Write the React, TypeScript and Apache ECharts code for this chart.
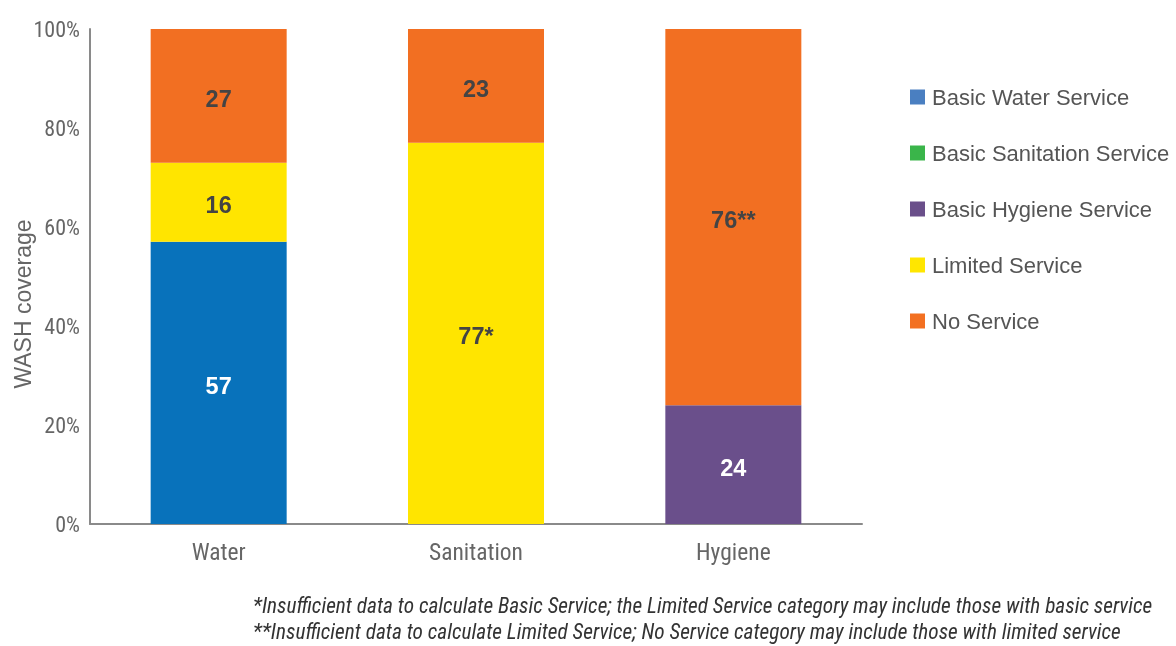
import React, { useEffect, useRef } from "react";
import * as echarts from "echarts";

const categories = ["Water", "Sanitation", "Hygiene"];
const seriesNames = [
  "Basic Water Service",
  "Basic Sanitation Service",
  "Basic Hygiene Service",
  "Limited Service",
  "No Service",
];
const basicWater = [57, null, null];
const basicSanitation = [null, null, null];
const basicHygiene = [null, null, 24];
const limitedService = [16, 77, null];
const noService = [27, 23, 76];
const labelText: (string | null)[][] = [
  ["57", null, null],
  [null, null, null],
  [null, null, "24"],
  ["16", "77*", null],
  ["27", "23", "76**"],
];
const yTicks = [0, 20, 40, 60, 80, 100];
const yAxisTitle = "WASH coverage";
const footnotes = [
  "*Insufficient data to calculate Basic Service; the Limited Service category may include those with basic service",
  "**Insufficient data to calculate Limited Service; No Service category may include those with limited service",
];

const barColors = ["#0872bb", "#3ab54a", "#6a4f8b", "#ffe500", "#f26f22"];
const legendColors = ["#4a7fc1", "#3ab54a", "#6a4f8a", "#ffe600", "#f37021"];
const labelColors = ["#ffffff", "#ffffff", "#ffffff", "#444444", "#444444"];

const condensed = "'Roboto Condensed', 'Liberation Sans Narrow', Roboto, sans-serif";
const sans = "'Liberation Sans', Arial, sans-serif";

export default function App() {
  const ref = useRef<HTMLDivElement>(null);
  useEffect(() => {
    if (!ref.current) return;
    const chart = echarts.init(ref.current, null, { renderer: "svg" });
    const allData = [basicWater, basicSanitation, basicHygiene, limitedService, noService];
    chart.setOption({
      animation: false,
      grid: { left: 90, right: 314, top: 29, bottom: 122, containLabel: false, outerBoundsMode: "none" },
      legend: {
        orient: "vertical",
        left: 905,
        top: 81,
        itemWidth: 15,
        itemHeight: 15,
        itemGap: 34,
        icon: "rect",
        textStyle: { fontSize: 22, color: "#555", fontFamily: sans, lineHeight: 22, padding: [0, 0, 0, 2] },
        data: seriesNames.map((n, i) => ({ name: n, itemStyle: { color: legendColors[i] } })),
      },
      xAxis: {
        type: "category",
        data: categories,
        axisLine: { lineStyle: { color: "#8a8a8a", width: 2 } },
        axisTick: { show: false },
        axisLabel: { fontSize: 23.5, color: "#666", margin: 16, fontFamily: condensed },
      },
      yAxis: {
        type: "value",
        min: 0,
        max: 100,
        interval: 20,
        axisLine: { show: true, lineStyle: { color: "#8a8a8a", width: 2 } },
        axisTick: { show: false },
        splitLine: { show: false },
        axisLabel: {
          fontSize: 22,
          color: "#666",
          margin: 10,
          fontFamily: condensed,
          formatter: (v: number) => (yTicks.includes(v) ? v + "%" : ""),
        },
      },
      series: seriesNames.map((name, i) => ({
        name,
        type: "bar",
        stack: "total",
        barWidth: 136,
        data: allData[i],
        itemStyle: { color: barColors[i] },
        label: {
          show: true,
          position: "inside",
          offset: [0, 3],
          color: labelColors[i],
          fontSize: 23.5,
          fontWeight: "bold",
          fontFamily: sans,
          formatter: (p: any) => labelText[i][p.dataIndex] ?? "",
        },
      })),
      graphic: [
        {
          type: "text",
          x: 23,
          y: 304,
          rotation: Math.PI / 2,
          style: {
            text: yAxisTitle,
            fontSize: 23,
            fill: "#666",
            fontFamily: sans,
            align: "center",
            verticalAlign: "middle",
          },
        },
        ...footnotes.map((t, i) => ({
          type: "text",
          left: 253,
          top: 595 + i * 26,
          style: {
            text: t,
            fontSize: 21.3,
            fontStyle: "italic",
            fill: "#333",
            fontFamily: condensed,
          },
        })),
      ],
    });
    return () => chart.dispose();
  }, []);
  return <div ref={ref} style={{ position: "fixed", left: 0, top: 0, width: 1176, height: 646 }} />;
}
